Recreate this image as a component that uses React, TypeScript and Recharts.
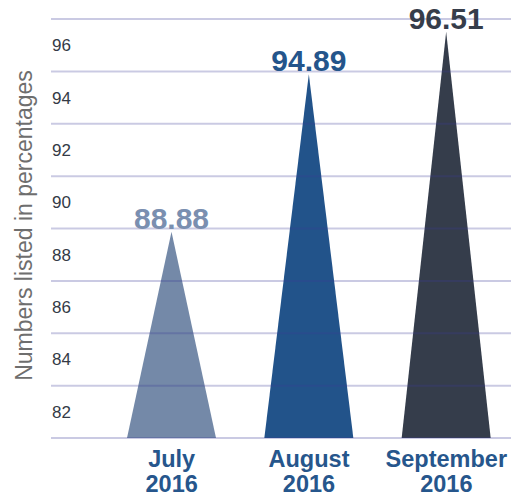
import { BarChart, Bar, XAxis, YAxis, ReferenceLine, LabelList, Cell } from "recharts";

const months = ["July", "August", "September"];
const years = ["2016", "2016", "2016"];
const scores = [88.88, 94.89, 96.51];
const barColors = ["#7489a8", "#22538a", "#353d4b"];
const labelColors = ["#7a8fb0", "#24558b", "#363d4a"];
const yTicks = [82, 84, 86, 88, 90, 92, 94, 96];
const gridValues = [81, 83, 85, 87, 89, 91, 93, 95, 97];

const data = months.map((m, i) => ({ month: m, year: years[i], score: scores[i] }));

// pointed column: base at the axis, apex at the value
const Spike = (props: any) => {
  const { x, y, width, height, fill } = props;
  const d = `M${x},${y + height} L${x + width / 2},${y} L${x + width},${y + height} Z`;
  return <path d={d} fill={fill} />;
};

const YTick = (props: any) => {
  const { x, y, payload } = props;
  return (
    <text x={x + 9} y={y} dy={6} textAnchor="start" fill="#343a46" fontSize={17} fontFamily="Liberation Sans, Arial, sans-serif">
      {payload.value}
    </text>
  );
};

const XTick = (props: any) => {
  const { x, y, payload, index } = props;
  return (
    <text x={x} y={y} textAnchor="middle" fill="#26568c" fontSize={23.5} fontWeight="bold" fontFamily="Liberation Sans, Arial, sans-serif">
      <tspan x={x} dy={21}>{payload.value}</tspan>
      <tspan x={x} dy={25}>{years[index]}</tspan>
    </text>
  );
};

const ValueLabel = (props: any) => {
  const { x, y, width, index, value } = props;
  return (
    <text x={x + width / 2} y={y - 3} textAnchor="middle" fill={labelColors[index]} fontSize={30} fontWeight="bold" fontFamily="Liberation Sans, Arial, sans-serif">
      {value.toFixed(2)}
    </text>
  );
};

export default function App() {
  return (
    <div style={{ position: "absolute", left: 0, top: 0, width: 511, height: 496, overflow: "hidden", background: "#fff" }}>
      <BarChart width={516} height={496} data={data} margin={{ top: 19, right: 0, bottom: 0, left: 0 }}>
        <XAxis
          dataKey="month"
          height={58}
          axisLine={false}
          tickLine={false}
          interval={0}
          padding={{ left: 52, right: 1 }}
          tick={<XTick />}
        />
        <YAxis
          type="number"
          domain={[81, 97]}
          ticks={yTicks}
          width={51}
          axisLine={false}
          tickLine={false}
          allowDataOverflow
          tick={<YTick />}
          label={{
            value: "Numbers listed in percentages",
            angle: -90,
            position: "center",
            dx: -2,
            dy: -3,
            fill: "#6e6e6e",
            fontSize: 23,
            fontFamily: "Liberation Sans, Arial, sans-serif",
          }}
        />
        <Bar dataKey="score" barSize={89} shape={<Spike />} isAnimationActive={false}>
          {data.map((d, i) => (
            <Cell key={d.month} fill={barColors[i]} />
          ))}
          <LabelList dataKey="score" content={<ValueLabel />} />
        </Bar>
        {gridValues.map((v) => (
          <ReferenceLine key={v} y={v} stroke="#3c3c96" strokeOpacity={0.27} strokeWidth={2} />
        ))}
      </BarChart>
    </div>
  );
}
